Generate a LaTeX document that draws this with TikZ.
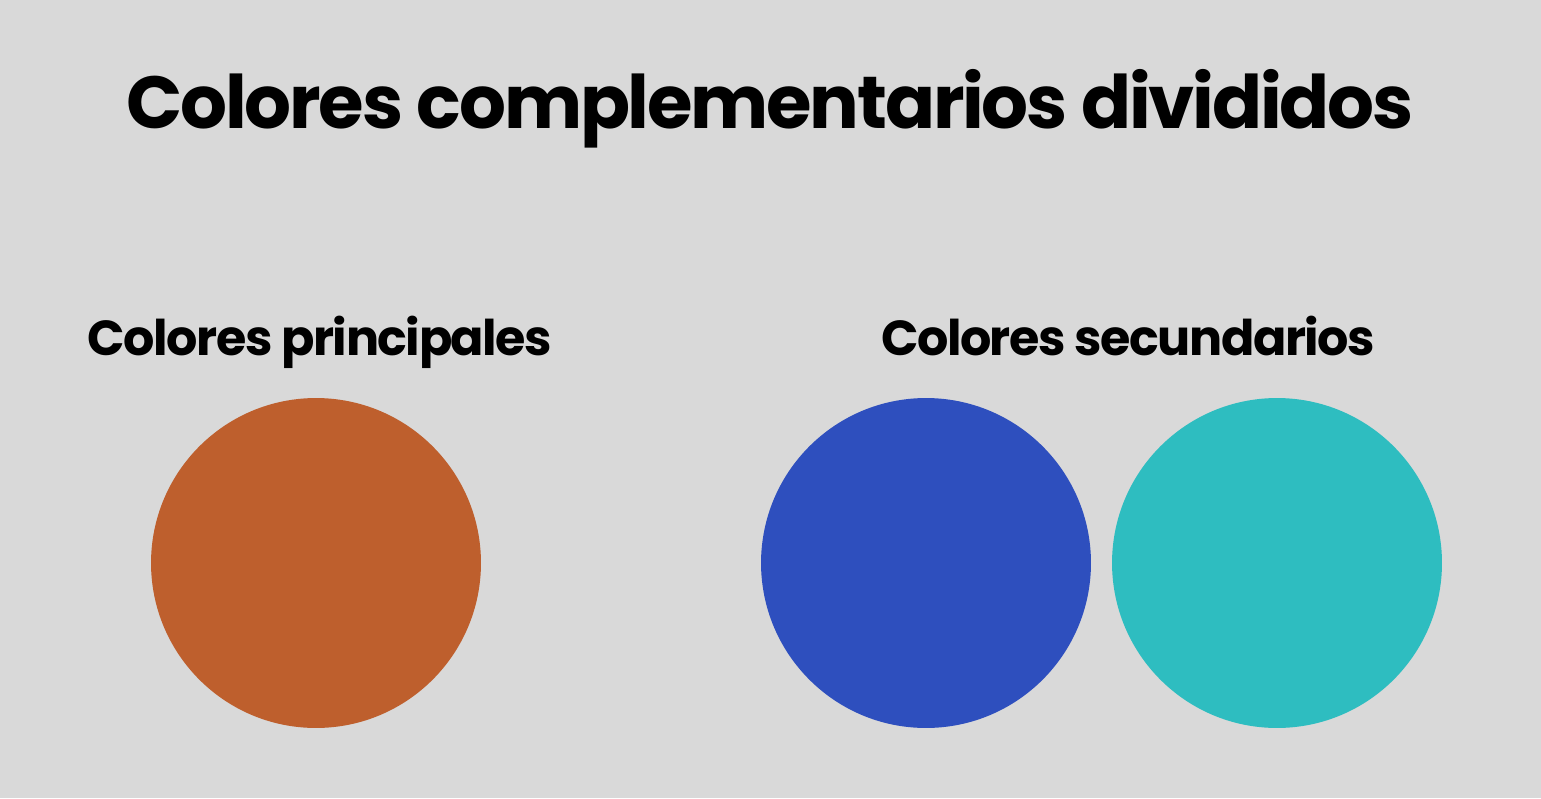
\documentclass[tikz,border=0pt]{standalone}
\usepackage{fontspec}
\setmainfont{Poppins}[BoldFont={* Bold},LetterSpace=-3]
\definecolor{fondo}{HTML}{D9D9D9}
\definecolor{naranja}{HTML}{BE5F2D}
\definecolor{azul}{HTML}{2E4FBE}
\definecolor{turquesa}{HTML}{2EBDC0}
\tikzset{disco/.style={circle,minimum size=6.6cm,inner sep=0pt}}

\begin{document}
\begin{tikzpicture}[x=0.02cm,y=-0.02cm,inner sep=0pt]
\fill[fondo] (0,0) rectangle (1541,798);
\useasboundingbox (0,0) rectangle (1541,798);
\node[anchor=base] (titulo) at (770,128) {\fontsize{42}{46}\selectfont\bfseries Colores complementarios divididos};
\node[anchor=base] (prin) at (320,355) {\fontsize{28}{32}\selectfont\bfseries Colores principales};
\node[anchor=base] (sec) at (1128,355) {\fontsize{28}{32}\selectfont\bfseries Colores secundarios};

\node[disco,fill=naranja] (c1) at (316,563) {};
\node[disco,fill=azul] (c2) at (926,563) {};
\node[disco,fill=turquesa] (c3) at (1277,563) {};
\end{tikzpicture}
\end{document}
